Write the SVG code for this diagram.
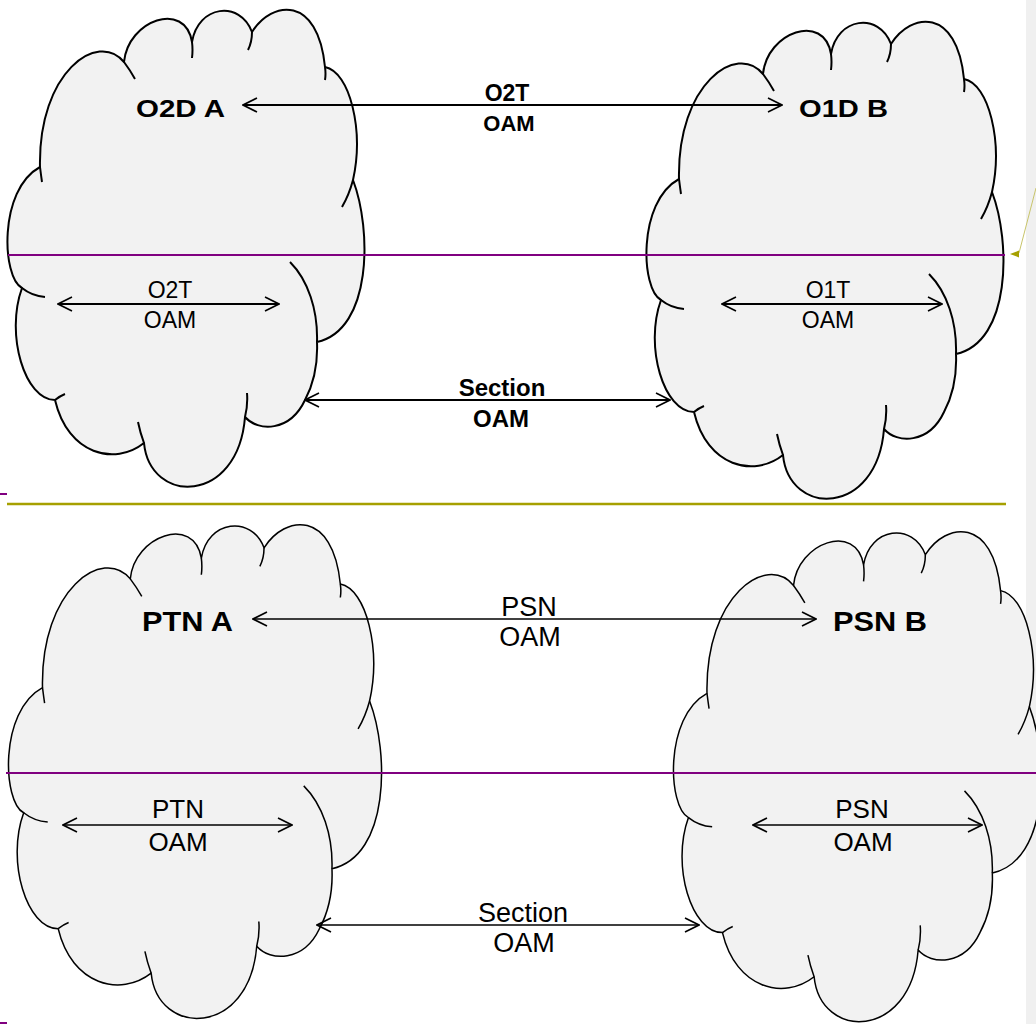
<svg xmlns="http://www.w3.org/2000/svg" xmlns:xlink="http://www.w3.org/1999/xlink" width="1036" height="1024" viewBox="0 0 1036 1024">
<style>
.cloud{fill:#f2f2f2;stroke:#000;stroke-linejoin:round}
.tick{fill:none}
.top{stroke-width:2}
.bot{stroke-width:1.45}
.conn{stroke:#000;fill:none;marker-start:url(#ah);marker-end:url(#ah)}
.c2{stroke-width:2}
.c1{stroke-width:1.4}
text{font-family:"Liberation Sans",Arial,sans-serif;fill:#000;text-anchor:middle}
.title{font-weight:bold}
.b{font-weight:bold}
.purple{stroke:#800080;stroke-width:2}
.olive{stroke:#a6a000;stroke-width:2.4}
</style>
<defs>
<marker id="ah" viewBox="0 0 16 16" refX="15" refY="8" markerWidth="16" markerHeight="16" markerUnits="userSpaceOnUse" orient="auto-start-reverse">
<path d="M1,1 L15,8 L1,15" fill="none" stroke="#000" stroke-width="1.6"/>
</marker>
<g id="cloudShape">
<path class="cloud" d="M22,288 C2,278 -2,190 40,167 C38,72 98,30 124,62 C128,20 185,0 192,42 C198,5 240,0 252,32 C272,0 318,-5 325,67 C350,72 364,130 353,180 C372,230 372,330 317,342 C318,365 313,385 305,400 C290,432 258,432 245,417 C238,505 150,505 144,443 C115,466 68,455 55,400 C25,400 5,335 22,288 Z"/>
<path class="tick" d="M40,167 Q41,175 42,182 M124,62 Q130,70 135,79 M192,42 Q193,50 192,58 M252,32 Q252,42 248,50 M325,67 Q326,74 325,80 M353,180 Q349,195 342,207 M290,262 C308,280 318,310 317,342 M245,417 Q248,405 247,393 M144,443 Q140,432 138,422 M55,400 Q60,396 65,394 M22,288 Q32,296 45,297"/>
</g>
</defs>
<rect x="1026" y="0" width="10" height="1024" fill="#f0f0f0"/>

<g id="cloud-o2d-a">
<use xlink:href="#cloudShape" href="#cloudShape" stroke="#000" class="top"/>
<text class="title" x="180.5" y="117" font-size="24" textLength="89" lengthAdjust="spacingAndGlyphs">O2D A</text>
<text x="170" y="298" font-size="23">O2T</text>
<text x="170" y="328" font-size="23">OAM</text>
</g>

<g id="cloud-o1d-b">
<use xlink:href="#cloudShape" href="#cloudShape" stroke="#000" class="top" transform="translate(639,12)"/>
<text class="title" x="843.5" y="117" font-size="24" textLength="89" lengthAdjust="spacingAndGlyphs">O1D B</text>
<text x="828" y="298" font-size="23">O1T</text>
<text x="828" y="328" font-size="23">OAM</text>
</g>

<g id="cloud-ptn-a">
<use xlink:href="#cloudShape" href="#cloudShape" stroke="#000" class="bot" transform="translate(0.7,514.7) scale(1.045,1.035)"/>
<text class="title" x="187.5" y="631" font-size="28" textLength="91" lengthAdjust="spacingAndGlyphs">PTN A</text>
<text x="178" y="818" font-size="26">PTN</text>
<text x="178" y="851" font-size="26">OAM</text>
</g>

<g id="cloud-psn-b">
<use xlink:href="#cloudShape" href="#cloudShape" stroke="#000" class="bot" transform="translate(665.8,521.8) scale(1.03,1.027)"/>
<text class="title" x="880" y="631" font-size="28" textLength="94" lengthAdjust="spacingAndGlyphs">PSN B</text>
<text x="862" y="818" font-size="26">PSN</text>
<text x="863" y="851" font-size="26">OAM</text>
</g>

<g id="connectors">
<line class="conn c2" x1="243" y1="105" x2="782" y2="105"/>
<line class="conn c2" x1="305" y1="400" x2="670" y2="400"/>
<line class="conn c2" x1="58" y1="304" x2="279" y2="304"/>
<line class="conn c2" x1="722" y1="304" x2="942" y2="304"/>
<line class="conn c1" x1="253" y1="619" x2="816" y2="619"/>
<line class="conn c1" x1="317" y1="925" x2="699" y2="925"/>
<line class="conn c1" x1="63" y1="825" x2="292" y2="825"/>
<line class="conn c1" x1="753" y1="825" x2="982" y2="825"/>
</g>

<g id="labels">
<text class="b" x="507" y="101" font-size="23">O2T</text>
<text class="b" x="509" y="131" font-size="22">OAM</text>
<text class="b" x="502" y="396" font-size="24">Section</text>
<text class="b" x="501" y="427" font-size="24">OAM</text>
<text x="529" y="616" font-size="27">PSN</text>
<text x="530" y="646" font-size="27">OAM</text>
<text x="523" y="922" font-size="27">Section</text>
<text x="524" y="952" font-size="27">OAM</text>
</g>

<g id="lines">
<line class="purple" x1="8" y1="255" x2="1005" y2="255"/>
<line class="purple" x1="6" y1="773" x2="1036" y2="773"/>
<line class="purple" x1="0" y1="494" x2="7" y2="494"/>
<line class="purple" x1="0" y1="1023" x2="7" y2="1023"/>
<line class="olive" x1="7" y1="504" x2="1006" y2="504"/>
<line x1="1019" y1="253" x2="1036" y2="188" stroke="#c8c46a" stroke-width="1"/>
<polygon points="1010,254 1019,250.5 1019,257.5" fill="#a6a000"/>
</g>
</svg>
